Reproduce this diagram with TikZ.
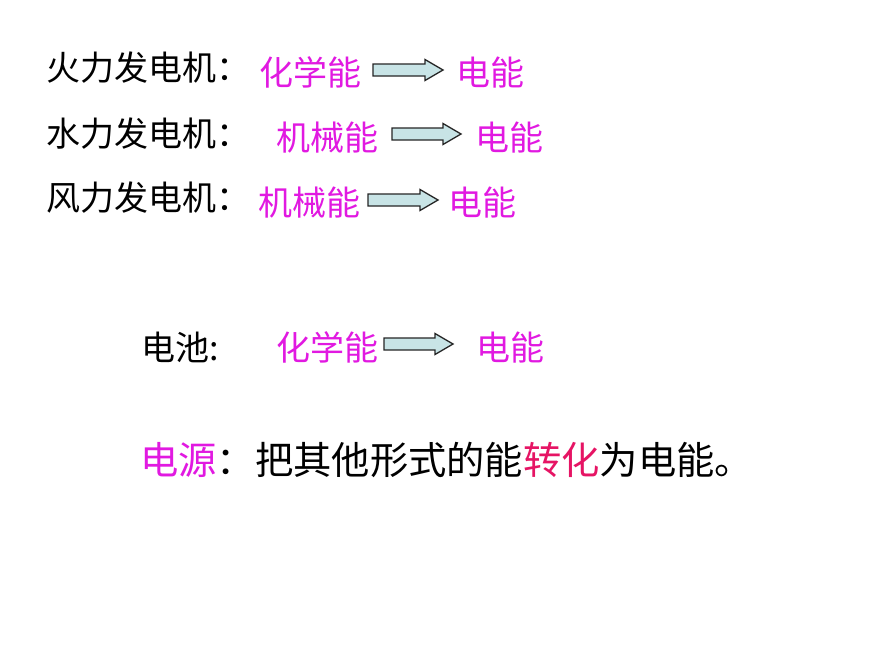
\documentclass[tikz,border=0pt]{standalone}
\usepackage{fontspec}
\setmainfont{Noto Sans CJK SC}
\definecolor{mag}{RGB}{225,25,225}
\definecolor{crim}{RGB}{230,20,100}
\definecolor{arrfill}{RGB}{200,228,230}
\newcommand{\blockarr}[5]{%
  % #1 x start, #2 head base x, #3 tip x, #4 y centre, #5 shaft half width
  \filldraw[barrowstyle] (#1,#4-#5) -- (#2,#4-#5) -- (#2,#4-10.5) -- (#3,#4)
    -- (#2,#4+10.5) -- (#2,#4+#5) -- (#1,#4+#5) -- cycle;}
\tikzset{
  blk/.style={anchor=base west, inner sep=0pt, text=black, font=\fontsize{34pt}{40pt}\selectfont},
  mg/.style={blk, text=mag},
  big/.style={anchor=base west, inner sep=0pt, text=black, font=\fontsize{38.3pt}{44pt}\selectfont},
  barrowstyle/.style={fill=arrfill, draw=black!85, line width=1.3pt, line join=miter}
}
\begin{document}
\begin{tikzpicture}[x=1pt,y=-1pt]
\fill[white] (0,0) rectangle (870,653);
\useasboundingbox (0,0) rectangle (870,653);
% row 1
\node[blk] (l1) at (46,80) {火力发电机：};
\node[mg] (s1) at (259,85) {化学能};
\node[mg] (e1) at (456,85) {电能};
\blockarr{373}{425}{443}{70}{6}
% row 2
\node[blk] (l2) at (46,146) {水力发电机：};
\node[mg] (s2) at (276,150) {机械能};
\node[mg] (e2) at (475,150) {电能};
\blockarr{392}{443}{461}{134}{6}
% row 3
\node[blk] (l3) at (46,210) {风力发电机：};
\node[mg] (s3) at (258,215) {机械能};
\node[mg] (e3) at (448,215) {电能};
\blockarr{368}{420}{438}{200}{6}
% row 4
\node[blk] (l4) at (141,360) {电池:};
\node[mg] (s4) at (276,360) {化学能};
\node[mg] (e4) at (476,360) {电能};
\blockarr{384}{435}{453}{344}{6}
% row 5
\node[big] (def) at (140,474.5) {\textcolor{mag}{电源}：把其他形式的能\textcolor{crim}{转化}为电能。};
\end{tikzpicture}
\end{document}
